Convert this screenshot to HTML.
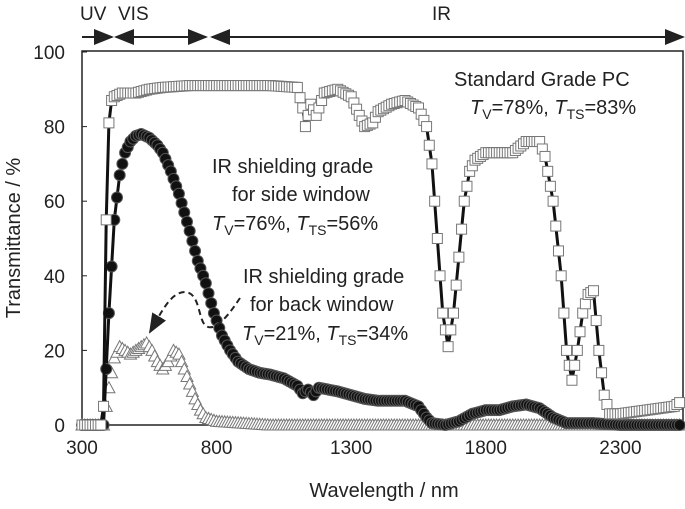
<!DOCTYPE html>
<html><head><meta charset="utf-8"><style>
body{margin:0;background:#fff}
svg text{font-family:"Liberation Sans",sans-serif;fill:#222}
</style></head><body>
<svg id="c" width="685" height="504" xmlns="http://www.w3.org/2000/svg">
<g id="axes"></g><g id="series"></g>
</svg>
<script>
const xTicks=[300,800,1300,1800,2300];
const yTicks=[0,20,40,60,80,100];
const stdWl=[300,340,370,380,390,400,410,420,450,500,550,600,700,800,900,1000,1100,1120,1130,1150,1170,1200,1250,1300,1330,1350,1380,1400,1450,1500,1550,1580,1600,1620,1640,1660,1680,1700,1720,1740,1760,1800,1850,1900,1950,2000,2020,2050,2080,2100,2120,2140,2160,2180,2200,2220,2240,2260,2300,2400,2500,2520];
const stdVal=[0,0,0,5,55,81,87,88,89,89,90,90.5,91,91,91,91,90.5,85,80,86,83,89,90,88,83,80,81,84,86,87,85,80,70,50,30,21,30,45,60,68,71,73,73,73,76,76,72,60,40,20,12,20,30,35,36,20,8,3,3,4,5,6];
const sideWl=[300,340,380,400,420,440,460,480,500,520,550,580,600,630,660,700,730,760,790,820,850,880,920,960,1000,1050,1100,1120,1140,1160,1180,1250,1300,1350,1400,1500,1550,1580,1600,1650,1700,1750,1800,1850,1900,1950,2000,2050,2100,2200,2300,2400,2520];
const sideVal=[0,0,0,30,55,67,73,76,77.5,78,77,75,73,68,62,52,44,38,30,24,20,17,15,14,13.5,12.5,10.5,8.5,9.5,8,10,9,8,7,6.5,6.5,5,2,0.5,0,1,3,4,4,5,5.5,4.5,2,0.5,0.5,0,0,0];
const backWl=[300,340,380,400,420,440,460,480,500,520,540,560,580,600,620,640,660,680,700,720,740,760,800,900,1000,1200,1500,1800,2100,2400,2520];
const backVal=[0,0,0,10,18,21,20,19,20,21,22,20,17,15,17,20,19,15,11,7,4,2,1,0.5,0,0,0,0,0,0,0];
const NS="http://www.w3.org/2000/svg";
const X=w=>82+(w-300)*0.2692, Y=v=>425-v*3.73;
function mk(t,a,p){const e=document.createElementNS(NS,t);for(const k in a)e.setAttribute(k,a[k]);(p||document.getElementById('series')).appendChild(e);return e;}
const ax=document.getElementById('axes');
const box=mk('rect',{x:82,y:51,width:601,height:374,fill:'none',stroke:'#222','stroke-width':1.5},ax);


xTicks.forEach(t=>{mk('line',{x1:X(t),x2:X(t),y1:425,y2:420,stroke:'#222'},ax);
const tx=mk('text',{x:X(t),y:454,'font-size':19,'text-anchor':'middle'},ax);tx.textContent=t;

});
yTicks.forEach(t=>{mk('line',{x1:82,x2:87,y1:Y(t),y2:Y(t),stroke:'#222'},ax);
const tx=mk('text',{x:65,y:Y(t)+7,'font-size':19,'text-anchor':'end'},ax);tx.textContent=t;

});
const xt=mk('text',{x:384,y:497,'font-size':20,'text-anchor':'middle'},ax);xt.textContent='Wavelength / nm';


const yt=mk('text',{x:0,y:0,'font-size':20,'text-anchor':'middle',transform:'translate(20,238) rotate(-90)'},ax);yt.textContent='Transmittance / %';


function valAt(wl,val,w){for(let i=1;i<wl.length;i++){if(w<=wl[i]){const t=(w-wl[i-1])/(wl[i]-wl[i-1]);return val[i-1]+t*(val[i]-val[i-1]);}}return val[val.length-1];}
function series(wl,val,kind,name){
 const g=mk('g',{});
 
 
 const pts=wl.map((w,i)=>X(w)+','+Y(val[i])).join(' ');
 if(kind!=='tri')mk('polyline',{points:pts,fill:'none',stroke:'#111','stroke-width':3},g);
 // markers rendered at the instrument's ~10 nm sampling along the spectrum
 for(let w=wl[0];w<=wl[wl.length-1];w+=10){const x=X(w),y=Y(valAt(wl,val,w));let m;
  if(kind==='sq')m=mk('rect',{x:x-5,y:y-5,width:10,height:10,fill:'#fff',stroke:'#777','stroke-width':1},g);
  else if(kind==='ci')m=mk('circle',{cx:x,cy:y,r:5.5,fill:'#111',stroke:'#555','stroke-width':1},g);
  else m=mk('polygon',{points:`${x},${y-6} ${x-6},${y+5} ${x+6},${y+5}`,fill:'#fff',stroke:'#777','stroke-width':1},g);
  
  
 }
}
series(backWl,backVal,'tri','back-window-series');
series(sideWl,sideVal,'ci','side-window-series');
series(stdWl,stdVal,'sq','standard-pc-series');
</script>
<svg width="685" height="504" style="position:absolute;left:0;top:0">
<defs><marker id="a1" markerWidth="10" markerHeight="10" refX="9" refY="5" orient="auto-start-reverse"><path d="M0,1 L10,5 L0,9 Z" fill="#222"/></marker></defs>
<g stroke="#222" stroke-width="2" fill="none">
<line x1="82" y1="37" x2="112" y2="37" marker-end="url(#a1)"/>
<line x1="116" y1="37" x2="206" y2="37" marker-start="url(#a1)" marker-end="url(#a1)"/>
<line x1="212" y1="37" x2="683" y2="37" marker-start="url(#a1)" marker-end="url(#a1)"/>
<path d="M240,298 C232,310 215,335 205,325 C198,318 200,293 185,292 C170,292 160,315 150,332" stroke-dasharray="6,4" marker-end="url(#a1)"/>
</g>
<g font-family="Liberation Sans,sans-serif" fill="#222" font-size="19">
<text x="80" y="20">UV</text><text x="118" y="20">VIS</text><text x="432" y="20">IR</text>
<text x="454" y="86" font-size="20">Standard Grade PC</text>
<text x="470" y="114" font-size="20"><tspan font-style="italic">T</tspan><tspan font-size="14" dy="5">V</tspan><tspan dy="-5">=78%, </tspan><tspan font-style="italic">T</tspan><tspan font-size="14" dy="5">TS</tspan><tspan dy="-5">=83%</tspan></text>
<text x="212" y="173" font-size="20">IR shielding grade</text>
<text x="232" y="201" font-size="20">for side window</text>
<text x="212" y="230" font-size="20"><tspan font-style="italic">T</tspan><tspan font-size="14" dy="5">V</tspan><tspan dy="-5">=76%, </tspan><tspan font-style="italic">T</tspan><tspan font-size="14" dy="5">TS</tspan><tspan dy="-5">=56%</tspan></text>
<text x="243" y="283" font-size="20">IR shielding grade</text>
<text x="250" y="311" font-size="20">for back window</text>
<text x="242" y="340" font-size="20"><tspan font-style="italic">T</tspan><tspan font-size="14" dy="5">V</tspan><tspan dy="-5">=21%, </tspan><tspan font-style="italic">T</tspan><tspan font-size="14" dy="5">TS</tspan><tspan dy="-5">=34%</tspan></text>
</g>
</svg>
</body></html>
